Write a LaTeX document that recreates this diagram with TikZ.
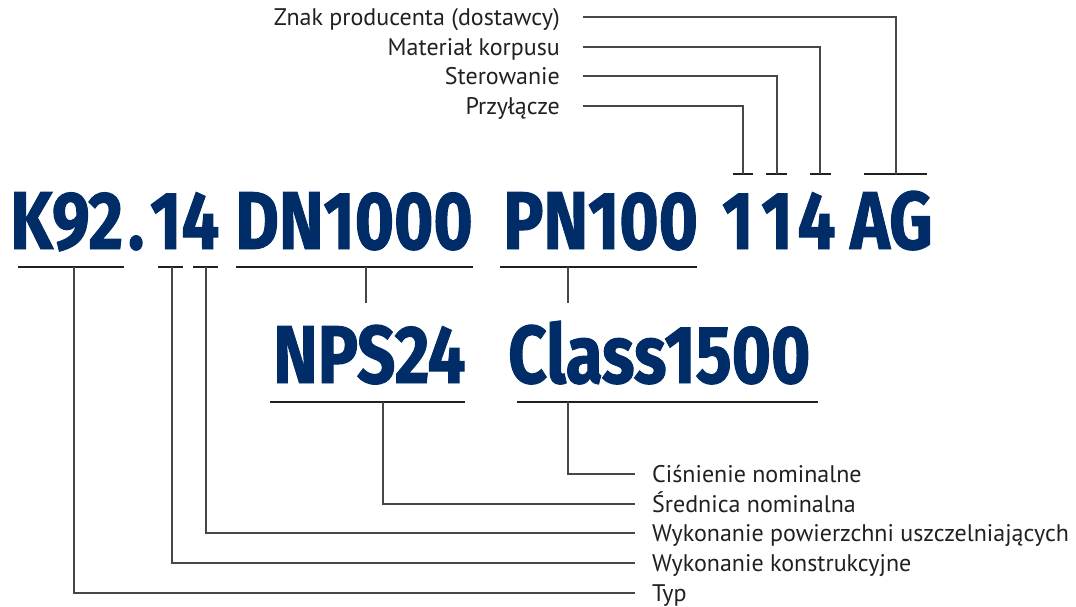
\documentclass[tikz,border=0pt]{standalone}
\usepackage{fontspec}
\setmainfont{PT Sans}
\newfontfamily\bigfont{Fira Sans}[FakeStretch=0.82,FakeBold=1.2]
\definecolor{navy}{RGB}{0,45,104}
\definecolor{ink}{RGB}{35,31,32}
\begin{document}
\begin{tikzpicture}[x=1pt,y=-1pt,
  code/.style={anchor=base west,inner sep=0,text=navy,font=\bigfont\bfseries\fontsize{82}{82}\selectfont},
  lab/.style={inner sep=0,text height=17pt,text depth=0pt,text=ink,font=\fontsize{24}{24}\selectfont},
  bar/.style={line width=2.3pt,draw=ink},
  lead/.style={line width=1.2pt,draw=black!72}]
\useasboundingbox (0,0) rectangle (1076,607);

% code rows
\node[code] (k)    at (10,249)  {K92\kern5pt.\kern6pt14};
\node[code] (dn)   at (235,249) {DN1000};
\node[code] (pn)   at (503,249) {PN100};
\node[code] (n114) at (722,249) {1\kern8pt1\kern5pt4};
\node[code] (ag)   at (850,249) {AG};
\node[code] (nps)  at (273,383) {NPS24};
\node[code] (cls)  at (508,383) {Class1500};

% top labels
\node[lab,anchor=east] (znak) at (560,17)  {Znak producenta (dostawcy)};
\node[lab,anchor=east] (mat)  at (560,47)  {Materiał korpusu};
\node[lab,anchor=east] (ster) at (560,76)  {Sterowanie};
\node[lab,anchor=east] (przy) at (560,106) {Przyłącze};

% bottom labels
\node[lab,anchor=west] (cis)  at (652,474) {Ciśnienie nominalne};
\node[lab,anchor=west] (sred) at (652,504) {Średnica nominalna};
\node[lab,anchor=west] (wpow) at (652,533) {Wykonanie powierzchni uszczelniających};
\node[lab,anchor=west] (wkon) at (652,563) {Wykonanie konstrukcyjne};
\node[lab,anchor=west] (typ)  at (652,593) {Typ};

% top ticks
\coordinate (t1l) at (733,174); \coordinate (t1r) at (753,174); \coordinate (t1) at (743,174);
\coordinate (t2l) at (766,174); \coordinate (t2r) at (787,174); \coordinate (t2) at (777,174);
\coordinate (t3l) at (810,174); \coordinate (t3r) at (831,174); \coordinate (t3) at (820,174);
\coordinate (t4l) at (864,174); \coordinate (t4r) at (927,174); \coordinate (t4) at (896,174);
\foreach \i in {1,...,4} \draw[bar] (t\i l) -- (t\i r);
\draw[lead] ([xshift=23pt]znak.east) -| (t4);
\draw[lead] ([xshift=23pt]mat.east)  -| (t3);
\draw[lead] ([xshift=23pt]ster.east) -| (t2);
\draw[lead] ([xshift=23pt]przy.east) -| (t1);

% underlines of first row
\coordinate (u1l) at (18,267);  \coordinate (u1r) at (124,267); \coordinate (u1) at (74,267);
\coordinate (u2l) at (158,267); \coordinate (u2r) at (183,267); \coordinate (u2) at (172,267);
\coordinate (u3l) at (193,267); \coordinate (u3r) at (218,267); \coordinate (u3) at (206,267);
\coordinate (u4l) at (236,267); \coordinate (u4r) at (473,267); \coordinate (u4) at (366,267);
\coordinate (u5l) at (500,267); \coordinate (u5r) at (697,267); \coordinate (u5) at (568,267);
\foreach \i in {1,...,5} \draw[bar] (u\i l) -- (u\i r);
\coordinate (d4) at (366,303);
\coordinate (d5) at (568,303);
\draw[lead] (u4) -- (d4);
\draw[lead] (u5) -- (d5);

% underlines of second row
\coordinate (v1l) at (270,402); \coordinate (v1r) at (465,402); \coordinate (v1) at (383,402);
\coordinate (v2l) at (517,402); \coordinate (v2r) at (818,402); \coordinate (v2) at (568,402);
\draw[bar] (v1l) -- (v1r);
\draw[bar] (v2l) -- (v2r);

% leaders to bottom labels
\draw[lead] (v2) |- ([xshift=-17pt]cis.west);
\draw[lead] (v1) |- ([xshift=-17pt]sred.west);
\draw[lead] (u3) |- ([xshift=-17pt]wpow.west);
\draw[lead] (u2) |- ([xshift=-17pt]wkon.west);
\draw[lead] (u1) |- ([xshift=-17pt]typ.west);
\end{tikzpicture}
\end{document}
